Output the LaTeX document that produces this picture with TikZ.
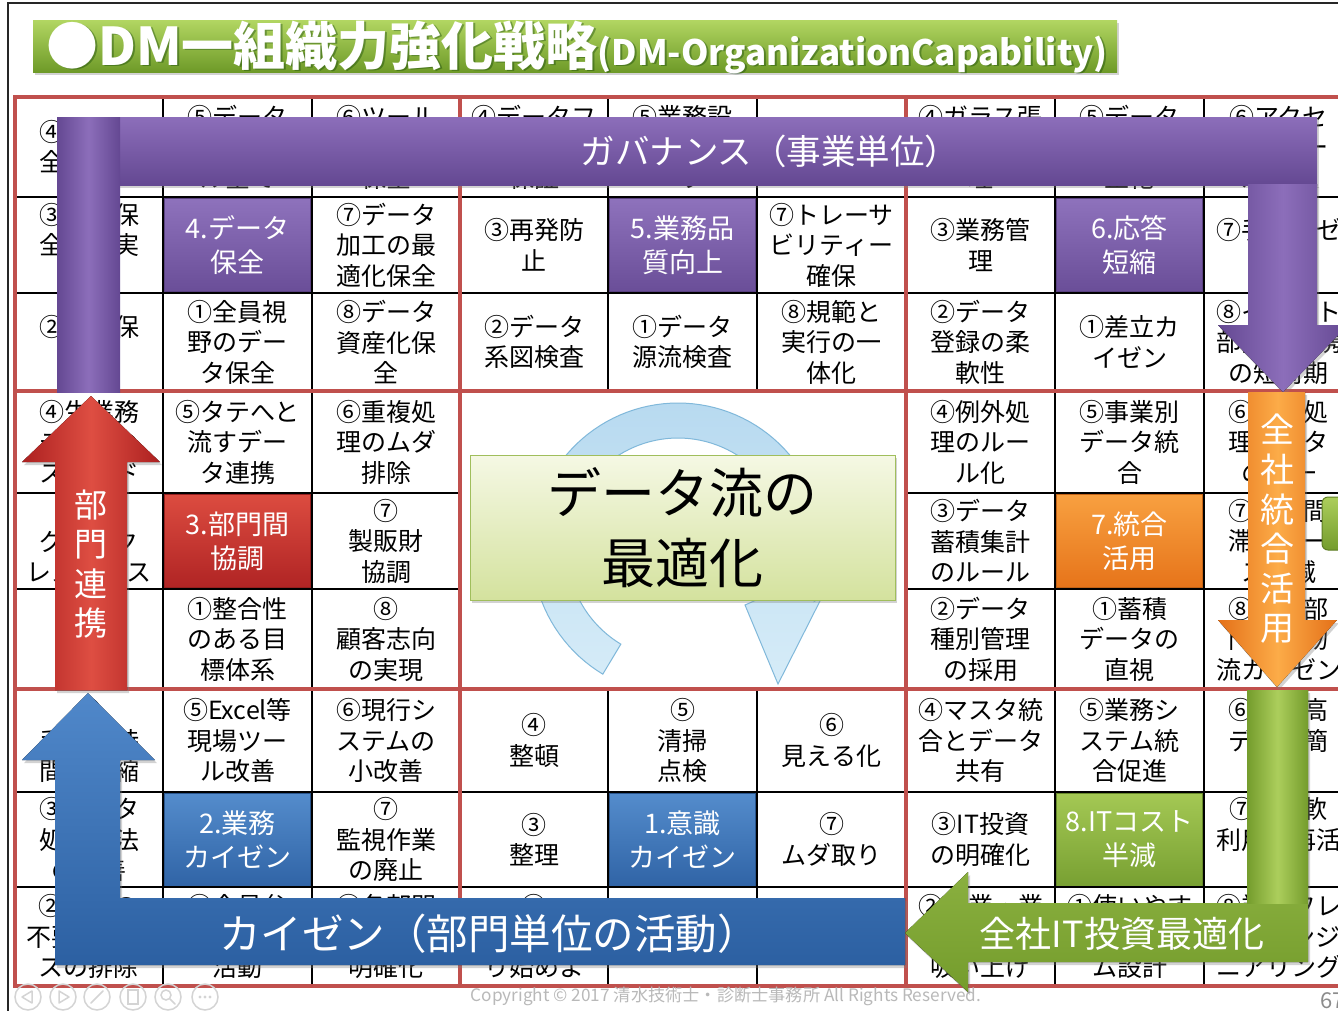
\documentclass[tikz,border=0pt]{standalone}
\usepackage{fontspec}
\setmainfont{Noto Sans CJK JP}
\usetikzlibrary{shadows}
\definecolor{gridred}{RGB}{192,80,77}
\definecolor{purL}{RGB}{140,110,186}
\definecolor{purD}{RGB}{100,72,146}
\definecolor{redL}{RGB}{222,78,66}
\definecolor{redD}{RGB}{172,32,32}
\definecolor{bluL}{RGB}{80,136,202}
\definecolor{bluD}{RGB}{44,96,162}
\definecolor{grnL}{RGB}{172,206,92}
\definecolor{grnD}{RGB}{116,156,44}
\definecolor{orgL}{RGB}{252,172,72}
\definecolor{orgD}{RGB}{228,112,24}
\definecolor{tpurL}{RGB}{142,114,188}
\definecolor{tpurD}{RGB}{106,78,152}
\definecolor{tredL}{RGB}{220,76,64}
\definecolor{tredD}{RGB}{176,36,36}
\definecolor{torgL}{RGB}{248,160,64}
\definecolor{torgD}{RGB}{230,116,26}
\definecolor{tbluL}{RGB}{84,140,204}
\definecolor{tbluD}{RGB}{48,100,166}
\definecolor{tgrnL}{RGB}{164,200,84}
\definecolor{tgrnD}{RGB}{120,160,50}
\definecolor{ttlL}{RGB}{178,214,98}
\definecolor{ttlD}{RGB}{110,154,40}
\definecolor{boxT}{RGB}{245,248,228}
\definecolor{boxB}{RGB}{212,226,158}
\definecolor{boxD}{RGB}{160,190,92}
\definecolor{ringT}{RGB}{184,218,240}
\definecolor{ringB}{RGB}{214,236,248}
\definecolor{ringD}{RGB}{128,184,218}
\definecolor{cgray}{RGB}{185,185,185}
\definecolor{navgray}{RGB}{212,212,212}
\newcommand\cellfont{\fontsize{25}{30.5}\selectfont}
\newcommand\tilefont{\fontsize{27}{34}\selectfont}
\newcommand\titletext{{\fontsize{52}{52}\selectfont\bfseries ●DM一組織力強化戦略}{\fontsize{35}{35}\selectfont\bfseries(DM-OrganizationCapability)}}
\begin{document}
\begin{tikzpicture}[x=1pt,y=-1pt,
  cell/.style={font=\cellfont, align=center, inner sep=0pt, text=black},
  tile/.style 2 args={top color=#1, bottom color=#2, draw=#2!85!black, line width=0.8pt,
    minimum width=146pt, minimum height=93pt, inner sep=0pt, align=center, text=white, font=\tilefont},
  blackline/.style={line width=2pt, black},
  redline/.style={line width=4.5pt, gridred},
  bigshadow/.style={drop shadow={opacity=0.35, shadow xshift=2pt, shadow yshift=-3pt}},
  bartext/.style={text=white, inner sep=0pt, align=center},
  navicon/.style={draw=navgray, line width=1.5pt}
]
\useasboundingbox (0,0) rectangle (1338,1010);
\clip (0,0) rectangle (1338,1010);
\fill[white] (0,0) rectangle (1338,1010);
% slide frame
\draw[line width=2pt, black!85] (8,1015) -- (8,3) -- (1345,3);

% title banner
\fill[top color=ttlL, bottom color=ttlD, bigshadow] (33,20) rectangle (1117,72);
\node[anchor=west, inner sep=0pt, text=black!60!green!50!black, opacity=0.35] (titleshadow) at (48,48.5) {\titletext};
\node[anchor=west, inner sep=0pt, text=white] (title) at (46,47) {\titletext};

% ---------------- cell texts ----------------
% row 0
\node[cell] (r0c0) at (89,147) {④データ\\全体把握};
\node[cell] (r0c1) at (237.5,147) {⑤データ\\ファイ\\ル全て};
\node[cell] (r0c2) at (386,147) {⑥ツール\\の機能\\保全};
\node[cell] (r0c3) at (534,147) {④データフ\\ローの\\保証};
\node[cell] (r0c4) at (682.5,147) {⑤業務設\\計とデ\\ータ};
\node[cell] (r0c6) at (980.5,147) {④ガラス張\\りの管\\理};
\node[cell] (r0c7) at (1129.5,147) {⑤データ\\量の適\\正化};
\node[cell] (r0c8) at (1278.5,147) {⑥アクセ\\ス権ルー\\ル統一};
% row 1
\node[cell] (r1c0) at (89,245) {③定期保\\全の確実\\施};
\node[cell] (r1c2) at (386,245) {⑦データ\\加工の最\\適化保全};
\node[cell] (r1c3) at (534,245) {③再発防\\止};
\node[cell] (r1c5) at (831.5,245) {⑦トレーサ\\ビリティー\\確保};
\node[cell] (r1c6) at (980.5,245) {③業務管\\理};
\node[cell] (r1c8) at (1278.5,245) {⑦手待ちゼ\\ロ化};
% row 2
\node[cell] (r2c0) at (89,342) {②履歴保\\存};
\node[cell] (r2c1) at (237.5,342) {①全員視\\野のデー\\タ保全};
\node[cell] (r2c2) at (386,342) {⑧データ\\資産化保\\全};
\node[cell] (r2c3) at (534,342) {②データ\\系図検査};
\node[cell] (r2c4) at (682.5,342) {①データ\\源流検査};
\node[cell] (r2c5) at (831.5,342) {⑧規範と\\実行の一\\体化};
\node[cell] (r2c6) at (980.5,342) {②データ\\登録の柔\\軟性};
\node[cell] (r2c7) at (1129.5,342) {①差立カ\\イゼン};
\node[cell] (r2c8) at (1278.5,342) {⑧イベント\\部門間連携\\の短周期};
% row 3
\node[cell] (r3c0) at (89,442) {④生業務\\データの\\スピード};
\node[cell] (r3c1) at (237.5,442) {⑤タテへと\\流すデー\\タ連携};
\node[cell] (r3c2) at (386,442) {⑥重複処\\理のムダ\\排除};
\node[cell] (r3c6) at (980.5,442) {④例外処\\理のルー\\ル化};
\node[cell] (r3c7) at (1129.5,442) {⑤事業別\\データ統\\合};
\node[cell] (r3c8) at (1278.5,442) {⑥二重処\\理データ\\の統一};
% row 4
\node[cell] (r4c0) at (89,541) {③\\クイック\\レスポンス};
\node[cell] (r4c2) at (386,541) {⑦\\製販財\\協調};
\node[cell] (r4c6) at (980.5,541) {③データ\\蓄積集計\\のルール};
\node[cell] (r4c8) at (1278.5,541) {⑦工程間\\滞留ロー\\ス削減};
% row 5
\node[cell] (r5c1) at (237.5,639) {①整合性\\のある目\\標体系};
\node[cell] (r5c2) at (386,639) {⑧\\顧客志向\\の実現};
\node[cell] (r5c6) at (980.5,639) {②データ\\種別管理\\の採用};
\node[cell] (r5c7) at (1129.5,639) {①蓄積\\データの\\直視};
\node[cell] (r5c8) at (1278.5,639) {⑧調達部\\門間の物\\流カイゼン};
% row 6
\node[cell] (r6c0) at (89,740.5) {④\\手待ち時\\間の短縮};
\node[cell] (r6c1) at (237.5,740.5) {⑤Excel等\\現場ツー\\ル改善};
\node[cell] (r6c2) at (386,740.5) {⑥現行シ\\ステムの\\小改善};
\node[cell] (r6c3) at (534,740.5) {④\\整頓};
\node[cell] (r6c4) at (682.5,740.5) {⑤\\清掃\\点検};
\node[cell] (r6c5) at (831.5,740.5) {⑥\\見える化};
\node[cell] (r6c6) at (980.5,740.5) {④マスタ統\\合とデータ\\共有};
\node[cell] (r6c7) at (1129.5,740.5) {⑤業務シ\\ステム統\\合促進};
\node[cell] (r6c8) at (1278.5,740.5) {⑥入出高\\データ簡\\素化};
% row 7
\node[cell] (r7c0) at (89,839.5) {③データ\\処理方法\\の改善};
\node[cell] (r7c2) at (386,839.5) {⑦\\監視作業\\の廃止};
\node[cell] (r7c3) at (534,839.5) {③\\整理};
\node[cell] (r7c5) at (831.5,839.5) {⑦\\ムダ取り};
\node[cell] (r7c6) at (980.5,839.5) {③IT投資\\の明確化};
\node[cell] (r7c8) at (1278.5,839.5) {⑦IT柔軟\\利用・再活\\用};
% row 8
\node[cell] (r8c0) at (89,936.5) {②業務の\\不要プロセ\\スの排除};
\node[cell] (r8c1) at (237.5,936.5) {①全員参\\加の改善\\活動};
\node[cell] (r8c2) at (386,936.5) {⑧各部門\\の役割の\\明確化};
\node[cell] (r8c3) at (534,936.5) {②\\できる所よ\\り始めよ};
\node[cell] (r8c6) at (980.5,936.5) {②事業・業\\務データの\\吸い上げ};
\node[cell] (r8c7) at (1129.5,936.5) {①使いやす\\いシステ\\ム設計};
\node[cell] (r8c8) at (1278.5,936.5) {⑧業務フレ\\ームエンジ\\ニアリング};

% ---------------- theme tiles ----------------
\node[tile={tpurL}{tpurD}] (t4) at (237.5,245) {4.データ\\保全};
\node[tile={tpurL}{tpurD}] (t5) at (682.5,245) {5.業務品\\質向上};
\node[tile={tpurL}{tpurD}] (t6) at (1129.5,245) {6.応答\\短縮};
\node[tile={tredL}{tredD}] (t3) at (237.5,541) {3.部門間\\協調};
\node[tile={torgL}{torgD}] (t7) at (1129.5,541) {7.統合\\活用};
\node[tile={tbluL}{tbluD}] (t2) at (237.5,839.5) {2.業務\\カイゼン};
\node[tile={tbluL}{tbluD}] (t1) at (682.5,839.5) {1.意識\\カイゼン};
\node[tile={tgrnL}{tgrnD}] (t8) at (1129.5,839.5) {8.ITコスト\\半減};

% ---------------- grid ----------------
\foreach \yy in {197,293,792,887} \draw[blackline] (15,\yy) -- (1360,\yy);
\foreach \yy in {493,589} {\draw[blackline] (15,\yy) -- (460,\yy); \draw[blackline] (906,\yy) -- (1360,\yy);}
\foreach \xx in {163,312,1055,1204} \draw[blackline] (\xx,97) -- (\xx,986);
\foreach \xx in {608,757} {\draw[blackline] (\xx,97) -- (\xx,391); \draw[blackline] (\xx,689) -- (\xx,986);}
\foreach \xx in {15,460,906,1353} \draw[redline] (\xx,95) -- (\xx,988);
\foreach \yy in {97,391,689,986} \draw[redline] (13,\yy) -- (1360,\yy);

% ---------------- centre: cycle arrow and core box ----------------
\path[top color=ringT, bottom color=ringB, draw=ringD, line width=1pt]
  plot[domain=121:381, samples=90] ({678+146*cos(\x)},{549+146*sin(\x)})
  -- (822,597) -- (778,684) -- (745,605)
  -- plot[domain=381:121, samples=90] ({678+111*cos(\x)},{549+111*sin(\x)}) -- cycle;
\node[draw=boxD, line width=1pt, top color=boxT, bottom color=boxB, minimum width=425pt,
  minimum height=145pt, inner sep=0pt, bigshadow, align=center,
  font=\fontsize{54}{70}\selectfont] (core) at (682.5,527.5) {データ流の\\最適化};

% ---------------- governance arrow (purple) ----------------
\fill[top color=purL, bottom color=purD, bigshadow] (57,117) rectangle (1317,185);
\fill[left color=purD, right color=purD, middle color=purL, bigshadow]
  (1248,184) -- (1317,184) -- (1317,325) -- (1348,325) -- (1283,392) -- (1218,325) -- (1248,325) -- cycle;
\fill[left color=purD, right color=purD, middle color=purL] (57,117) rectangle (120,392);
\node[bartext, font=\fontsize{34.5}{34.5}\selectfont] (gov) at (770,151) {ガバナンス（事業単位）};

% ---------------- department arrow (red) ----------------
\fill[left color=redD, right color=redD, middle color=redL, bigshadow]
  (91,396) -- (160,462) -- (127,462) -- (127,690) -- (55,690) -- (55,462) -- (22,462) -- cycle;
\node[bartext, font=\fontsize{33}{39.3}\selectfont] (dept) at (91,564) {部\\門\\連\\携};

% ---------------- kaizen arrow (blue) ----------------
\fill[top color=bluL, bottom color=bluD, bigshadow]
  (88,693) -- (155,760) -- (120,760) -- (120,898) -- (905,898) -- (905,965) -- (55,965) -- (55,760) -- (22,760) -- cycle;
\node[bartext, font=\fontsize{41.5}{41.5}\selectfont] (kaizen) at (489,934) {カイゼン（部門単位の活動）};

% ---------------- integration arrow (orange) ----------------
\fill[left color=orgD, right color=orgD, middle color=orgL, bigshadow]
  (1248,392) -- (1305,392) -- (1305,620) -- (1337,620) -- (1277,687) -- (1218,620) -- (1248,620) -- cycle;
\node[bartext, font=\fontsize{34}{39.6}\selectfont] (integ) at (1277,529) {全\\社\\統\\合\\活\\用};

% right-edge callout
\draw[rounded corners=6pt, top color=grnL, bottom color=grnD, draw=grnD!80!black, line width=1pt] (1322,497) rectangle (1385,550);

% ---------------- footer ----------------
\node[text=cgray, inner sep=0pt, font=\fontsize{17.2}{17.2}\selectfont] (copy) at (726,996) {Copyright © 2017 清水技術士・診断士事務所 All Rights Reserved.};
\node[anchor=west, text=black!45, inner sep=0pt, font=\fontsize{22}{22}\selectfont] (page) at (1320,1001) {67};

% ---------------- IT investment arrow (green) ----------------
\fill[top color=grnL, bottom color=grnD, bigshadow]
  (905,933) -- (968,872) -- (968,903) -- (1247,903) -- (1247,690) -- (1308,690) -- (1308,962) -- (968,962) -- (968,992) -- cycle;
\fill[left color=grnD, right color=grnD, middle color=grnL] (1247,690) rectangle (1308,903);
\node[bartext, font=\fontsize{36}{36}\selectfont] (itinv) at (1122,934) {全社IT投資最適化};

% ---------------- navigation icons ----------------
\foreach \cxx in {28,63,97,133,168,205} \draw[navicon] (\cxx,997) circle (13);
\draw[navicon, line join=round] (22,997) -- (32,991) -- (32,1003) -- cycle;
\draw[navicon, line join=round] (69,997) -- (59,991) -- (59,1003) -- cycle;
\draw[navicon, line cap=round] (91,1003) -- (103,991);
\draw[navicon] (128,990) rectangle (138,1004);
\draw[navicon] (166,995) circle (5);
\draw[navicon, line cap=round] (170,999) -- (175,1004);
\foreach \dx in {-5,0,5} \fill[navgray] (205+\dx,997) circle (1.6);
\end{tikzpicture}
\end{document}
